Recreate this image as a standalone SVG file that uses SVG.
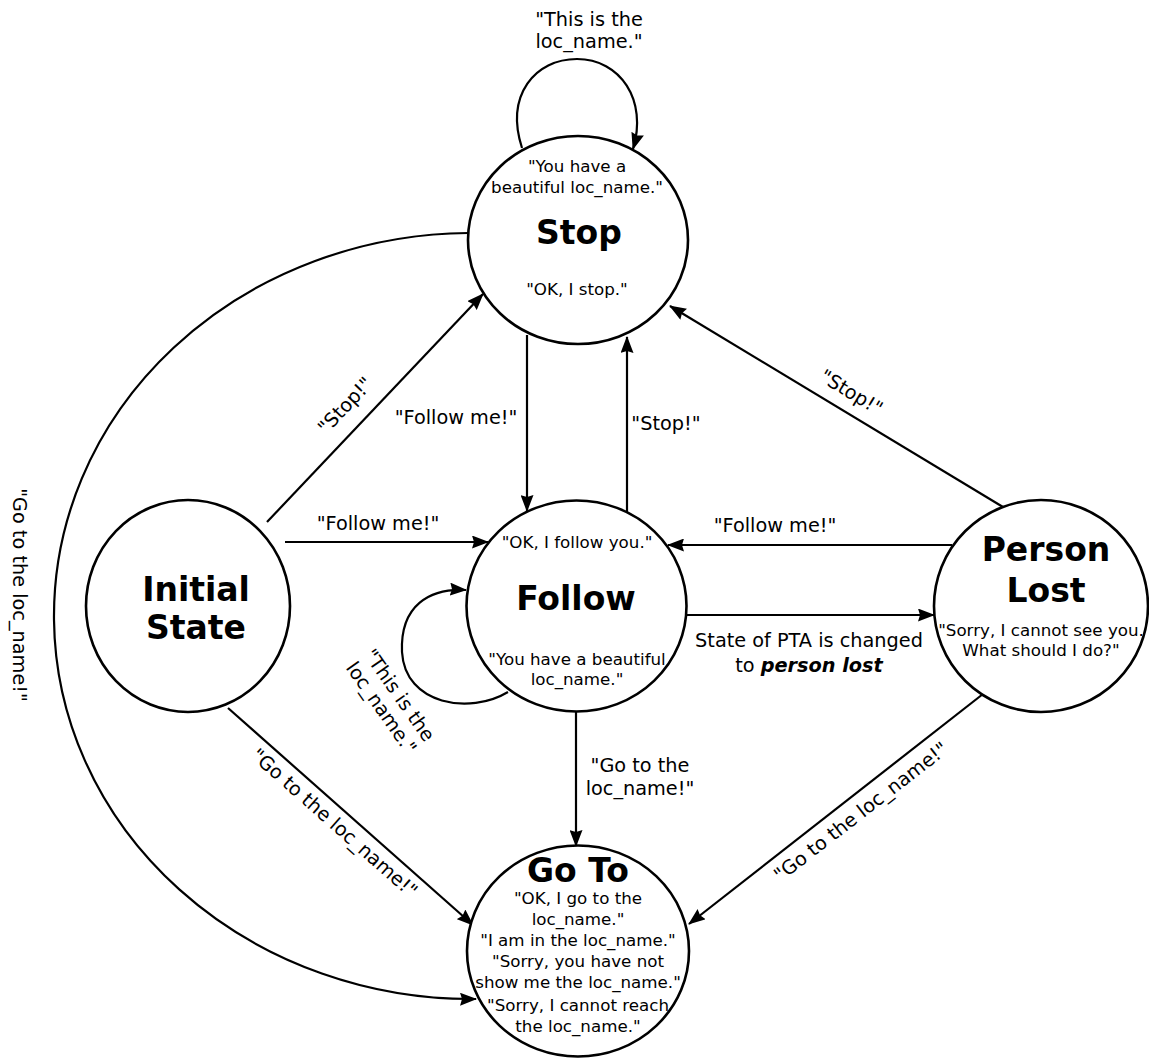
<svg xmlns="http://www.w3.org/2000/svg" width="1149" height="1059" viewBox="0 0 1149 1059">
  <defs>
    <marker id="arrow" markerWidth="17" markerHeight="13" refX="16" refY="6.5" orient="auto" markerUnits="userSpaceOnUse">
      <path d="M0,0 L17,6.5 L0,13 L2,6.5 z" fill="#000"/>
    </marker>
    <style>
      .state { fill: #fff; stroke: #000; stroke-width: 2.6; }
      .edge { fill: none; stroke: #000; stroke-width: 2.2; marker-end: url(#arrow); }
      text { font-family: "DejaVu Sans", "Liberation Sans", sans-serif; fill: #000; }
      .title { font-size: 33px; font-weight: bold; text-anchor: middle; }
      .say { font-size: 16.7px; text-anchor: middle; }
      .lbl { font-size: 19.3px; text-anchor: middle; }
    </style>
  </defs>
  <rect width="1149" height="1059" fill="#fff"/>

  <!-- transitions -->
  <g id="edges">
    <path class="edge" d="M522,148 C505,95 535,59 577,59 C620,59 648,100 633,149"/>
    <path class="edge" d="M468,233 A418,383 0 0 0 476,999"/>
    <path class="edge" d="M527,335 L527,511"/>
    <path class="edge" d="M627,512 L627,337"/>
    <path class="edge" d="M267,522 L483,294"/>
    <path class="edge" d="M285,542 L488,542"/>
    <path class="edge" d="M952,545 L668,545"/>
    <path class="edge" d="M687,615 L934,615"/>
    <path class="edge" d="M1003,507 L670,306"/>
    <path class="edge" d="M228,708 L473,925"/>
    <path class="edge" d="M983,694 L689,924"/>
    <path class="edge" d="M576,712 L576,846"/>
    <path class="edge" d="M508,692 C470,715 405,705 402,652 C400,605 430,588 466,590"/>

    <!-- transition labels -->
    <text class="lbl" x="589" y="26">"This is the</text>
    <text class="lbl" x="589" y="48">loc_name."</text>
    <text class="lbl" transform="translate(13,595) rotate(90)">"Go to the loc_name!"</text>
    <text class="lbl" x="456" y="424">"Follow me!"</text>
    <text class="lbl" x="666" y="430">"Stop!"</text>
    <text class="lbl" transform="translate(350,410) rotate(-46.5)">"Stop!"</text>
    <text class="lbl" x="378" y="530">"Follow me!"</text>
    <text class="lbl" x="775" y="532">"Follow me!"</text>
    <text class="lbl" x="809" y="647">State of PTA is changed</text>
    <text class="lbl" x="809" y="672">to <tspan font-weight="bold" font-style="italic">person lost</tspan></text>
    <text class="lbl" transform="translate(848,398) rotate(31.1)">"Stop!"</text>
    <text class="lbl" transform="translate(330,828) rotate(41.4)">"Go to the loc_name!"</text>
    <text class="lbl" transform="translate(865,817) rotate(-37.8)">"Go to the loc_name!"</text>
    <text class="lbl" x="640" y="772">"Go to the</text>
    <text class="lbl" x="640" y="795">loc_name!"</text>
    <text class="lbl" transform="translate(394,699) rotate(55)">"This is the<tspan x="0" dy="22">loc_name."</tspan></text>
  </g>

  <g id="stop">
    <ellipse class="state" cx="578" cy="240" rx="110" ry="104"/>
    <text class="say" x="577" y="172">"You have a</text>
    <text class="say" x="577" y="193">beautiful loc_name."</text>
    <text class="title" x="579" y="244">Stop</text>
    <text class="say" x="577" y="295">"OK, I stop."</text>
  </g>

  <g id="follow">
    <ellipse class="state" cx="576.5" cy="606" rx="110" ry="105.5"/>
    <text class="say" x="577" y="548">"OK, I follow you."</text>
    <text class="title" x="576" y="610">Follow</text>
    <text class="say" x="577" y="665">"You have a beautiful</text>
    <text class="say" x="577" y="685">loc_name."</text>
  </g>

  <g id="initial-state">
    <ellipse class="state" cx="188" cy="606" rx="102" ry="106"/>
    <text class="title" x="196" y="601">Initial</text>
    <text class="title" x="196" y="639">State</text>
  </g>

  <g id="person-lost">
    <ellipse class="state" cx="1041" cy="606" rx="107" ry="106"/>
    <text class="title" x="1046" y="561">Person</text>
    <text class="title" x="1046" y="602">Lost</text>
    <text class="say" x="1041" y="636">"Sorry, I cannot see you.</text>
    <text class="say" x="1041" y="656">What should I do?"</text>
  </g>

  <g id="go-to">
    <ellipse class="state" cx="578" cy="951" rx="111" ry="105.5"/>
    <text class="title" x="578" y="882">Go To</text>
    <text class="say" x="578" y="904">"OK, I go to the</text>
    <text class="say" x="578" y="925">loc_name."</text>
    <text class="say" x="578" y="946">"I am in the loc_name."</text>
    <text class="say" x="578" y="967">"Sorry, you have not</text>
    <text class="say" x="578" y="988">show me the loc_name."</text>
    <text class="say" x="578" y="1011">"Sorry, I cannot reach</text>
    <text class="say" x="578" y="1032">the loc_name."</text>
  </g>
</svg>
